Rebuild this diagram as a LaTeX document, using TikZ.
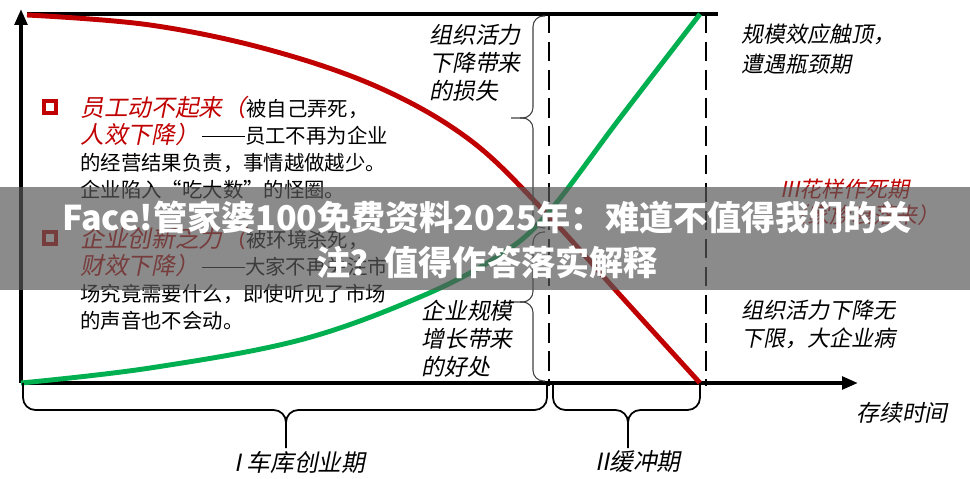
\documentclass[tikz,border=0pt]{standalone}
\usepackage{fontspec}
\usepackage{tikz}
\usetikzlibrary{arrows.meta}
\newfontfamily\cjk{Noto Sans CJK SC}
\newfontfamily\cjkit[FakeSlant=0.2]{Noto Sans CJK SC}
\definecolor{curvered}{RGB}{192,0,0}
\definecolor{curvegreen}{RGB}{0,176,80}
\definecolor{bannergray}{RGB}{87,87,87}
% brace under the time axis: left, tip, right
\newcommand{\lowbrace}[3]{%
  \draw[brace] (#1,383) |- (#2,410) -- (#2,448);
  \draw[brace] (#2,430) |- (#3,410) -- (#3,383);}
% brace beside the curves: top, tip, bottom
\newcommand{\sidebrace}[3]{%
  \draw[sidebrace] (545,#1) -| (533,#2) -- (511,#2);
  \draw[sidebrace] (520,#2) -| (533,#3) -- (545,#3);}
\newcommand{\longdash}{\,\rule[0.33em]{2.1em}{0.05em}}

\begin{document}
\begin{tikzpicture}[x=0.02cm,y=-0.02cm,
  axis/.style={line width=2.2pt},
  redcurve/.style={curvered,line width=2.8pt},
  greencurve/.style={curvegreen,line width=2.8pt},
  phaseline/.style={line width=1.6pt,dash pattern=on 11pt off 5pt},
  brace/.style={line width=1pt,rounded corners=7pt},
  sidebrace/.style={black!75,line width=0.6pt,rounded corners=6pt},
  bulletbox/.style={draw=curvered,line width=2pt,minimum size=0.24cm,inner sep=0},
  body/.style={anchor=north west,align=left,inner sep=0,font=\cjk\fontsize{11.6}{15.3}\selectfont},
  note/.style={anchor=north west,align=left,inner sep=0,font=\cjkit\fontsize{12.5}{17}\selectfont}]
\useasboundingbox (0,0) rectangle (970,479);

% axes
\coordinate (origin) at (21,383);
\coordinate (ytop) at (21,9);
\coordinate (xend) at (858,383);
\coordinate (topl) at (27,14);
\coordinate (topr) at (718,14);
\draw[axis,-{Triangle[length=9pt,width=7pt]}] (origin) -- (ytop);
\draw[axis,-{Triangle[length=9pt,width=7pt]}] (origin) -- (xend);
\draw[axis] (topl) -- (topr);

% phase borders
\draw[phaseline] (549,14) -- (549,386);
\draw[phaseline] (706,14) -- (706,386);

% curves
\draw[redcurve] plot[smooth,tension=0.6] coordinates
  {(27,15) (150,25) (270,50) (380,88) (470,140) (545,212) (620,295) (700,383)};
\draw[greencurve] plot[smooth,tension=0.6] coordinates
  {(21,383) (150,368) (300,340) (420,297) (500,255) (548,213) (620,118) (700,14)};

% braces
\sidebrace{16}{118}{228}
\sidebrace{232}{302}{381}
\lowbrace{23}{286}{547}
\lowbrace{553}{628}{700}

% left notes
\node[bulletbox] (bulletone) at (50,107) {};
\node[body] (staffnote) at (80,96)
  {{\color{curvered}\cjkit\fontsize{13.5}{15.3}\selectfont 员工动不起来（}被自己弄死，\\
   {\color{curvered}\cjkit\fontsize{13.5}{15.3}\selectfont 人效下降）}\longdash 员工不再为企业\\
   的经营结果负责，事情越做越少。\\
   企业陷入“吃大数”的怪圈。};
\node[bulletbox] (bullettwo) at (50,238) {};
\node[body] (innovnote) at (80,227)
  {{\color{curvered}\cjkit\fontsize{13.5}{15.3}\selectfont 企业创新乏力（}被环境杀死，\\
   {\color{curvered}\cjkit\fontsize{13.5}{15.3}\selectfont 财效下降）}\longdash 大家不再关注市\\
   场究竟需要什么，即使听见了市场\\
   的声音也不会动。};

% brace notes
\node[note,font=\cjkit\fontsize{13}{15.8}\selectfont] (lossnote) at (429,24) {组织活力\\下降带来\\的损失};
\node[note,font=\cjkit\fontsize{13}{15.8}\selectfont] (gainnote) at (421,300) {企业规模\\增长带来\\的好处};

% right notes
\node[note] (peaknote) at (741,24) {规模效应触顶，\\遭遇瓶颈期};
\node[note,curvered,font=\cjkit\fontsize{12.5}{14.5}\selectfont] (deathnote) at (780,179) {III花样作死期\\\ （家族衰落来）};
\node[note,font=\cjkit\fontsize{12.5}{15.5}\selectfont] (sicknote) at (741,300) {组织活力下降无\\下限，大企业病};

% axis labels
\node[font=\cjkit\fontsize{13}{15}\selectfont] (timelabel) at (902,413) {存续时间};
\node[font=\cjkit\fontsize{13.5}{15}\selectfont] (phaseone) at (300,462) {I 车库创业期};
\node[font=\cjkit\fontsize{13.5}{15}\selectfont] (phasetwo) at (638,462) {II缓冲期};

% banner
\fill[bannergray,opacity=0.69] (0,187) rectangle (970,290);
\node[white,align=center,font=\cjk\bfseries\fontsize{19.4}{25.5}\selectfont] (banner) at (487,240)
  {Face!管家婆100免费资料2025年：难道不值得我们的关\\注？值得作答落实解释};
\end{tikzpicture}
\end{document}
